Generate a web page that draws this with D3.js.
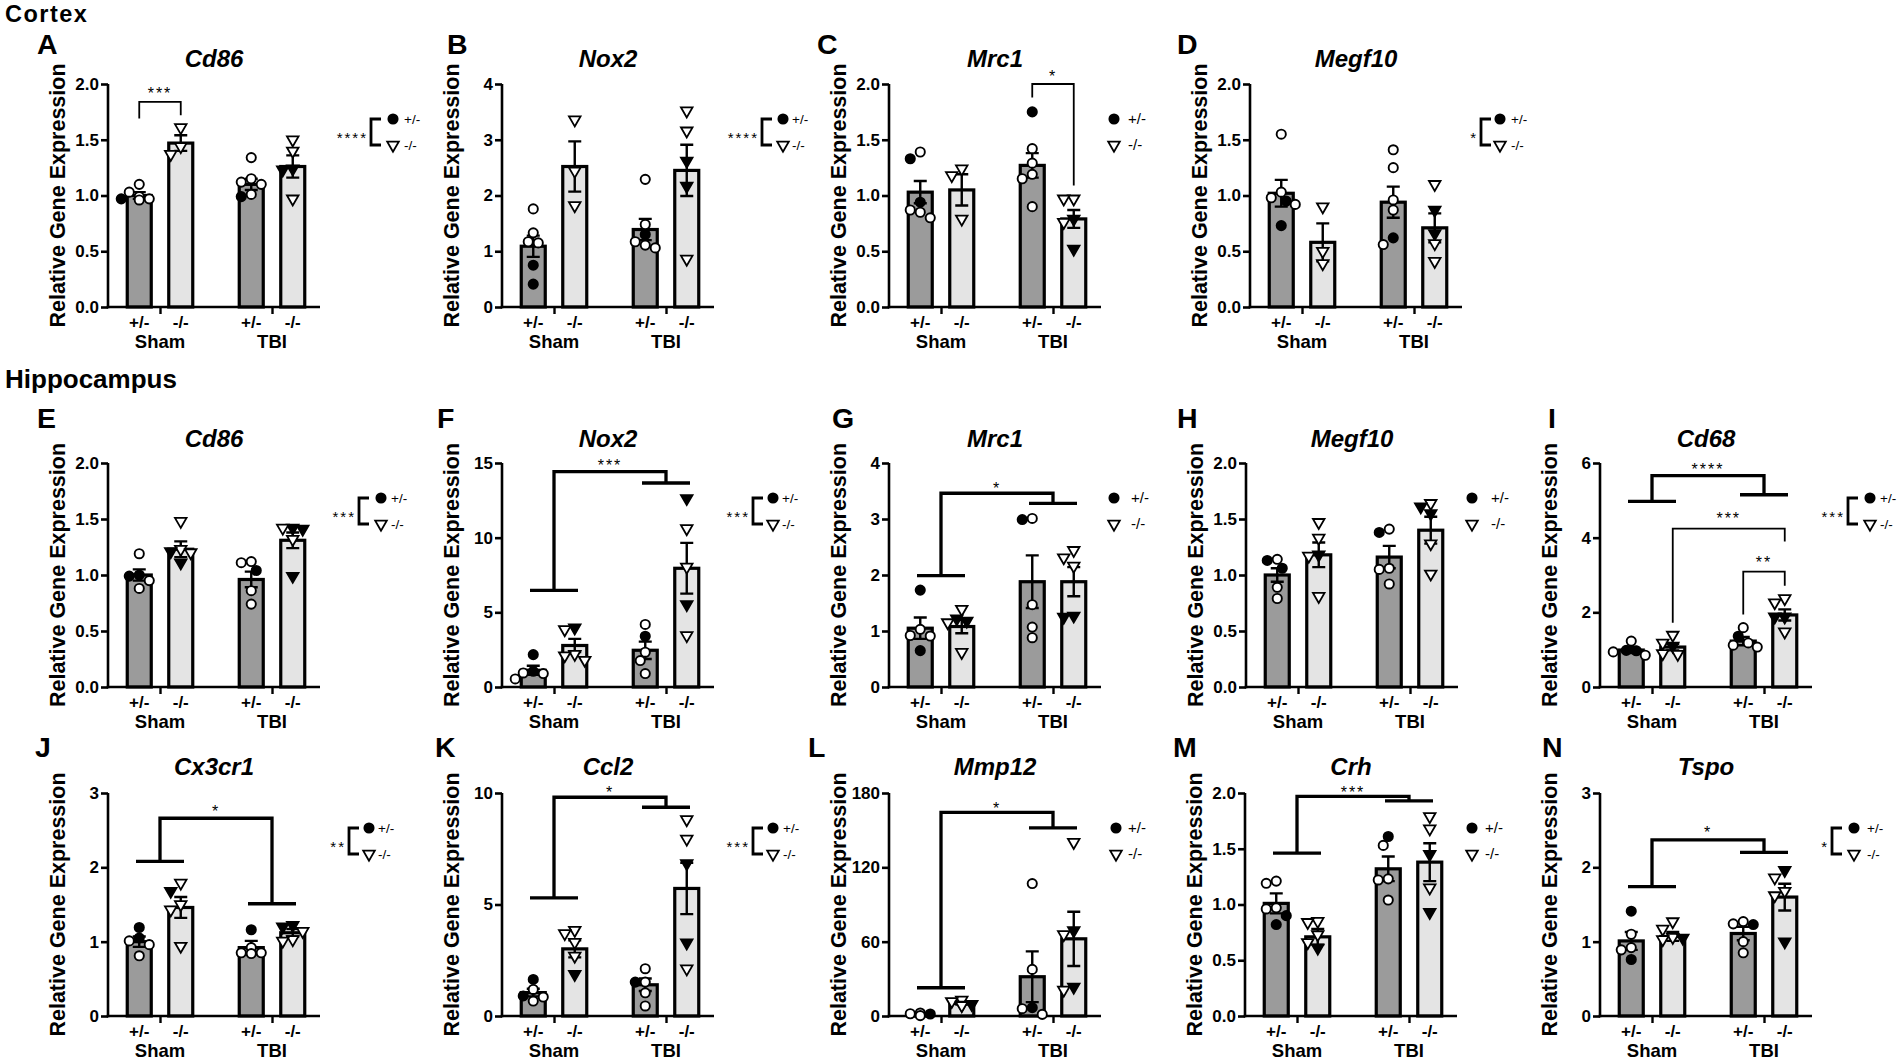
<!DOCTYPE html>
<html><head><meta charset="utf-8">
<script src="https://cdn.jsdelivr.net/npm/d3@7"></script>
<style>
html,body{margin:0;padding:0;background:#fff;}
svg{display:block;font-family:"Liberation Sans",Arial,Helvetica,sans-serif;}
</style></head><body>
<svg id="fig" width="1902" height="1063"></svg>
<script>
// ---------------- DATA ----------------
const groups = ["Sham", "TBI"];
const genotypes = ["+/-", "-/-"];
const yLabel = "Relative Gene Expression";
// bars order: Sham +/-, Sham -/-, TBI +/-, TBI -/- ; points: [value, filled(1)/open(0)]
const A_mean = [1.00, 1.47, 1.10, 1.26];
const A_sem  = [0.03, 0.07, 0.05, 0.10];
const A_pts  = [[[1.03,0],[1.10,0],[0.96,0],[0.97,0],[0.97,1],[0.99,0]],[[1.61,0],[1.44,0],[1.37,0]],[[1.34,0],[1.12,0],[1.15,0],[1.10,0],[1.01,0],[0.99,1]],[[1.50,0],[1.40,0],[1.24,1],[1.23,1],[0.97,0]]];
const A_ticks = [0, 0.5, 1.0, 1.5, 2.0];

const B_mean = [1.09, 2.52, 1.39, 2.45];
const B_sem  = [0.19, 0.45, 0.19, 0.46];
const B_pts  = [[[1.76,0],[1.33,0],[1.15,0],[1.17,0],[0.75,1],[0.41,1]],[[3.36,0],[2.44,0],[1.82,0]],[[2.29,0],[1.48,0],[1.30,1],[1.17,0],[1.06,0],[1.11,0]],[[3.52,0],[3.16,0],[2.62,1],[2.17,1],[0.86,0]]];
const B_ticks = [0, 1, 2, 3, 4];

const C_mean = [1.03, 1.05, 1.27, 0.79];
const C_sem  = [0.10, 0.14, 0.11, 0.08];
const C_pts  = [[[1.39,0],[1.33,1],[0.80,0],[0.87,0],[0.85,0],[0.94,1]],[[1.24,0],[1.18,0],[0.79,0]],[[1.75,1],[1.42,0],[1.29,0],[1.19,0],[1.15,0],[0.90,0]],[[0.97,0],[0.97,0],[0.79,1],[0.76,0],[0.52,1]]];
const C_ticks = [0, 0.5, 1.0, 1.5, 2.0];

const D_mean = [1.02, 0.58, 0.94, 0.71];
const D_sem  = [0.12, 0.17, 0.14, 0.13];
const D_pts  = [[[1.55,0],[0.98,0],[0.92,0],[1.03,0],[0.95,1],[0.73,1]],[[0.90,0],[0.50,0],[0.39,0]],[[1.41,0],[1.25,0],[0.96,0],[0.87,0],[0.56,0],[0.62,1]],[[1.10,0],[0.87,1],[0.66,1],[0.57,0],[0.41,0]]];
const D_ticks = [0, 0.5, 1.0, 1.5, 2.0];

const E_mean = [1.00, 1.23, 0.96, 1.31];
const E_sem  = [0.05, 0.07, 0.07, 0.07];
const E_pts  = [[[1.19,0],[0.99,1],[1.00,1],[0.88,0],[0.95,0]],[[1.48,0],[1.21,1],[1.11,1],[1.23,0],[1.20,0]],[[1.12,0],[1.11,0],[1.04,1],[0.86,0],[0.74,0]],[[1.42,1],[1.41,1],[1.42,0],[1.32,0],[0.99,1]]];
const E_ticks = [0, 0.5, 1.0, 1.5, 2.0];

const F_mean = [1.12, 2.78, 2.46, 7.95];
const F_sem  = [0.30, 0.44, 0.58, 1.70];
const F_pts  = [[[2.17,1],[1.05,1],[0.54,0],[0.94,0],[0.90,0]],[[3.96,1],[3.85,0],[2.2,0],[2.1,0],[1.8,0]],[[4.19,0],[3.40,1],[2.33,0],[1.77,0],[0.90,0]],[[12.63,1],[10.61,0],[8.04,0],[5.53,1],[3.45,0]]];
const F_ticks = [0, 5, 10, 15];

const G_mean = [1.05, 1.08, 1.88, 1.88];
const G_sem  = [0.19, 0.12, 0.47, 0.26];
const G_pts  = [[[1.73,1],[1.03,0],[0.91,0],[0.92,0],[0.65,1]],[[1.39,0],[1.22,1],[1.18,1],[1.15,0],[0.62,0]],[[3.01,0],[2.99,1],[1.47,0],[1.07,0],[0.88,0]],[[2.44,0],[2.31,0],[2.16,0],[1.25,1],[1.27,1]]];
const G_ticks = [0, 1, 2, 3, 4];

const H_mean = [1.00, 1.18, 1.16, 1.40];
const H_sem  = [0.06, 0.11, 0.10, 0.12];
const H_pts  = [[[1.14,0],[1.13,1],[1.06,1],[0.89,0],[0.79,0]],[[1.47,0],[1.33,0],[1.18,1],[1.17,0],[0.81,0]],[[1.41,0],[1.38,1],[1.06,0],[1.05,0],[0.92,0]],[[1.64,0],[1.61,1],[1.55,1],[1.28,0],[1.01,0]]];
const H_ticks = [0, 0.5, 1.0, 1.5, 2.0];

const I_mean = [0.99, 1.07, 1.23, 1.93];
const I_sem  = [0.08, 0.09, 0.11, 0.15];
const I_pts  = [[[1.23,0],[0.85,0],[0.97,1],[0.94,0],[0.98,1]],[[1.39,0],[1.18,0],[1.10,1],[0.90,0],[0.88,0]],[[1.59,0],[1.36,1],[1.07,0],[1.18,0],[1.12,0]],[[2.37,0],[2.26,0],[1.88,1],[1.88,1],[1.48,0]]];
const I_ticks = [0, 2, 4, 6];

const J_mean = [1.00, 1.46, 0.92, 1.12];
const J_sem  = [0.07, 0.14, 0.09, 0.05];
const J_pts  = [[[1.19,1],[1.05,1],[1.01,0],[0.96,0],[0.81,0]],[[1.79,0],[1.68,1],[1.50,0],[1.43,0],[0.94,0]],[[1.16,1],[0.85,0],[0.85,0],[0.92,0],[0.84,0]],[[1.22,1],[1.20,1],[1.14,0],[1.03,0],[1.01,0]]];
const J_ticks = [0, 1, 2, 3];

const K_mean = [1.05, 3.01, 1.40, 5.72];
const K_sem  = [0.17, 0.38, 0.28, 1.15];
const K_pts  = [[[1.64,1],[1.19,0],[0.90,1],[0.85,0],[0.67,0]],[[3.85,0],[3.70,0],[3.31,0],[2.69,0],[1.87,1]],[[2.12,0],[1.52,0],[1.52,1],[1.04,0],[0.45,0]],[[8.81,0],[7.94,0],[6.84,1],[3.28,1],[2.12,0]]];
const K_ticks = [0, 5, 10];

const L_mean = [1.3, 10.2, 31.7, 62.3];
const L_sem  = [0.5, 1.0, 20.5, 21.9];
const L_pts  = [[[0.3,0],[2.4,0],[1.8,0],[1.6,1]],[[12.9,0],[11.8,0],[9.4,1],[8.5,0],[8.9,1]],[[106.9,0],[37.6,0],[6.7,1],[1.3,0],[5.9,0]],[[140.2,0],[65.8,0],[69.0,1],[21.0,0],[23.4,1]]];
const L_ticks = [0, 60, 120, 180];

const M_mean = [1.01, 0.71, 1.32, 1.38];
const M_sem  = [0.09, 0.07, 0.11, 0.17];
const M_pts  = [[[1.19,0],[1.21,0],[0.96,0],[0.97,0],[0.82,1],[0.90,1]],[[0.85,0],[0.84,0],[0.73,0],[0.66,0],[0.61,1]],[[1.61,1],[1.53,0],[1.23,0],[1.22,0],[1.04,0]],[[1.79,0],[1.68,0],[1.45,1],[1.15,0],[0.93,1]]];
const M_ticks = [0, 0.5, 1.0, 1.5, 2.0];

const N_mean = [1.01, 1.07, 1.11, 1.60];
const N_sem  = [0.12, 0.06, 0.09, 0.18];
const N_pts  = [[[1.41,1],[1.10,0],[0.92,0],[0.89,0],[0.76,1]],[[1.27,0],[1.17,0],[1.06,0],[1.03,0],[1.05,1]],[[1.24,0],[1.27,0],[1.23,1],[1.00,0],[0.85,0]],[[1.96,1],[1.86,0],[1.68,0],[1.62,0],[1.00,1]]];
const N_ticks = [0, 1, 2, 3];

// significance annotations (values in data units)
const A_sig = [{type:"pair", i:0, j:1, left:1.69, top:1.84, right:1.72, label:"***", at:1.95}];
const C_sig = [{type:"pair", i:2, j:3, left:1.88, top:2.0, right:1.09, label:"*", at:2.1}];
const F_sig = [{type:"group", left:6.47, top:14.42, right:13.66, label:"***", at:15.04}];
const G_sig = [{type:"group", left:1.99, top:3.46, right:3.28, label:"*", at:3.6}];
const I_sig = [{type:"group", left:4.97, top:5.66, right:5.15, label:"****", at:5.91},
               {type:"pair", i:1, j:3, left:1.72, top:4.24, right:3.90, label:"***", at:4.6},
               {type:"pair", i:2, j:3, left:1.94, top:3.09, right:2.71, label:"**", at:3.43}];
const J_sig = [{type:"group", left:2.08, top:2.66, right:1.51, label:"*", at:2.8}];
const K_sig = [{type:"group", left:5.3, top:9.81, right:9.36, label:"*", at:10.2}];
const L_sig = [{type:"group", left:22.8, top:164.4, right:151.8, label:"*", at:170.6}];
const M_sig = [{type:"group", left:1.46, top:1.97, right:1.93, label:"***", at:2.04}];
const N_sig = [{type:"group", left:1.74, top:2.37, right:2.20, label:"*", at:2.52}];

// genotype main-effect stars in legends
const legendStars = {A:"****", B:"****", C:null, D:"*", E:"***", F:"***", G:null, H:null, I:"***", J:"**", K:"***", L:null, M:null, N:"*"};
const genes = {A:"Cd86", B:"Nox2", C:"Mrc1", D:"Megf10", E:"Cd86", F:"Nox2", G:"Mrc1", H:"Megf10", I:"Cd68", J:"Cx3cr1", K:"Ccl2", L:"Mmp12", M:"Crh", N:"Tspo"};

// ---------------- LAYOUT ----------------
const rowTop = [84, 463, 793], rowBot = [307, 687, 1016];
const letterBase = [54, 428, 757], titleBase = [67, 447, 775];
const layout = {
  A:{row:0, ax:108, lx:37,  fmt:".1f", lg:[263,285,296]},
  B:{row:0, ax:502, lx:447, fmt:"d",   lg:[260,281,290]},
  C:{row:0, ax:889, lx:817, fmt:".1f", lg:[null,225,239]},
  D:{row:0, ax:1250,lx:1177,fmt:".1f", lg:[231,250,261]},
  E:{row:1, ax:108, lx:37,  fmt:".1f", lg:[251,273,283]},
  F:{row:1, ax:502, lx:437, fmt:"d",   lg:[251,271,280]},
  G:{row:1, ax:889, lx:832, fmt:"d",   lg:[null,225,242]},
  H:{row:1, ax:1246,lx:1177,fmt:".1f", lg:[null,226,245]},
  I:{row:1, ax:1600,lx:1548,fmt:"d",   lg:[248,270,280]},
  J:{row:2, ax:108, lx:35,  fmt:"d",   lg:[241,261,270]},
  K:{row:2, ax:502, lx:435, fmt:"d",   lg:[251,271,281]},
  L:{row:2, ax:889, lx:808, fmt:"d",   lg:[null,227,239]},
  M:{row:2, ax:1245,lx:1173,fmt:".1f", lg:[null,227,240]},
  N:{row:2, ax:1600,lx:1542,fmt:"d",   lg:[232,254,267]}
};
const dataSets = {
  A:[A_mean,A_sem,A_pts,A_ticks,A_sig], B:[B_mean,B_sem,B_pts,B_ticks,[]], C:[C_mean,C_sem,C_pts,C_ticks,C_sig],
  D:[D_mean,D_sem,D_pts,D_ticks,[]], E:[E_mean,E_sem,E_pts,E_ticks,[]], F:[F_mean,F_sem,F_pts,F_ticks,F_sig],
  G:[G_mean,G_sem,G_pts,G_ticks,G_sig], H:[H_mean,H_sem,H_pts,H_ticks,[]], I:[I_mean,I_sem,I_pts,I_ticks,I_sig],
  J:[J_mean,J_sem,J_pts,J_ticks,J_sig], K:[K_mean,K_sem,K_pts,K_ticks,K_sig], L:[L_mean,L_sem,L_pts,L_ticks,L_sig],
  M:[M_mean,M_sem,M_pts,M_ticks,M_sig], N:[N_mean,N_sem,N_pts,N_ticks,N_sig]
};

const DARK = "#9b9b9b", LIGHT = "#e4e4e4";
const svg = d3.select("#fig");
const FONT = "Liberation Sans, Arial, sans-serif";

svg.append("text").attr("x", 5).attr("y", 22).attr("font-size", 23.5).attr("letter-spacing", 1.5)
  .attr("font-weight", "bold").text("Cortex");
svg.append("text").attr("x", 5).attr("y", 388).attr("font-size", 26).attr("font-weight", "bold").text("Hippocampus");

const triPath = d3.symbol(d3.symbolTriangle, 58)();

function marker(g, x, y, shape, filled) {
  if (shape === 0) {
    g.append("circle").attr("cx", x).attr("cy", y).attr("r", 4.6)
      .attr("fill", filled ? "#000" : "#fff").attr("stroke", "#000").attr("stroke-width", 1.9);
  } else {
    g.append("path").attr("d", triPath).attr("transform", `translate(${x},${y}) rotate(180)`)
      .attr("fill", filled ? "#000" : "#fff").attr("stroke", "#000").attr("stroke-width", 1.8).attr("stroke-linejoin", "miter");
  }
}

function swarm(values, cx, y) {
  const idx = values.map((_, i) => i).sort((a, b) => values[b][0] - values[a][0]);
  const placed = [], out = [];
  const offs = [0, -5, 5, -10, 10, -14, 14, -18, 18];
  idx.forEach(i => {
    const py = y(values[i][0]);
    let px = cx;
    for (const o of offs) {
      const c = cx + o;
      if (placed.every(q => Math.hypot(q[0] - c, q[1] - py) >= 9.6)) { px = c; break; }
    }
    placed.push([px, py]);
    out.push({v: values[i][0], f: values[i][1], x: px, y: py});
  });
  return out;
}

Object.keys(layout).forEach(id => {
  const L = layout[id];
  const [means, sems, pts, ticks, sigs] = dataSets[id];
  const top = rowTop[L.row], bot = rowBot[L.row];
  const ax = L.ax;
  const y = d3.scaleLinear().domain([0, d3.max(ticks)]).range([bot, top]);
  const xg = d3.scalePoint().domain(groups).range([ax + 52, ax + 164]);
  const xs = d3.scalePoint().domain(genotypes).range([-20.75, 20.75]);
  const bars = [];
  groups.forEach((gr, gi) => genotypes.forEach((ge, ki) => {
    const k = gi * 2 + ki;
    bars.push({gr, ge, k, cx: xg(gr) + xs(ge), mean: means[k], sem: sems[k], pts: pts[k]});
  }));
  const g = svg.append("g").attr("font-family", FONT);

  // letter & title
  g.append("text").attr("x", L.lx).attr("y", letterBase[L.row]).attr("font-size", 28.5).attr("font-weight", "bold").text(id);
  g.append("text").attr("x", ax + 106).attr("y", titleBase[L.row]).attr("text-anchor", "middle")
    .attr("font-size", 24).attr("font-weight", "bold").attr("font-style", "italic").text(genes[id]);
  // y label
  g.append("text").attr("transform", `translate(${ax - 43},${(top + bot) / 2}) rotate(-90)`)
    .attr("text-anchor", "middle").attr("font-size", 21.5).attr("font-weight", "bold").text(yLabel);

  // bars
  g.selectAll("rect.bar").data(bars).enter().append("rect")
    .attr("x", d => d.cx - 12).attr("width", 24)
    .attr("y", d => y(d.mean)).attr("height", d => bot - y(d.mean))
    .attr("fill", d => d.ge === "+/-" ? DARK : LIGHT).attr("stroke", "#000").attr("stroke-width", 3.2);

  // axes
  const yAxis = d3.axisLeft(y).tickValues(ticks).tickFormat(d3.format(L.fmt)).tickSize(7).tickSizeOuter(0).tickPadding(2);
  const ga = g.append("g").attr("transform", `translate(${ax},0)`).call(yAxis);
  ga.attr("font-family", FONT).attr("font-size", 17);
  ga.select(".domain").attr("stroke-width", 2.6).attr("d", `M0,${bot + 1.3}V${top}`);
  ga.selectAll(".tick line").attr("stroke-width", 2.6);
  ga.selectAll(".tick text").attr("font-weight", "bold").attr("fill", "#000");
  g.append("line").attr("x1", ax - 1.3).attr("x2", ax + 212).attr("y1", bot).attr("y2", bot)
    .attr("stroke", "#000").attr("stroke-width", 2.6);
  const xAxis = d3.axisBottom(xg).tickSize(7).tickSizeOuter(0).tickFormat("");
  const gx = g.append("g").attr("transform", `translate(0,${bot})`).call(xAxis);
  gx.select(".domain").remove();
  gx.selectAll(".tick line").attr("stroke-width", 2.4);

  // x labels
  g.selectAll("text.geno").data(bars).enter().append("text")
    .attr("x", d => d.cx).attr("y", bot + 21).attr("text-anchor", "middle")
    .attr("font-size", 17).attr("font-weight", "bold").text(d => d.ge);
  groups.forEach(gr => {
    g.append("text").attr("x", xg(gr)).attr("y", bot + 41).attr("text-anchor", "middle")
      .attr("font-size", 18.5).attr("font-weight", "bold").text(gr);
  });

  // error bars
  bars.forEach(d => {
    const y1 = y(d.mean + d.sem), y0 = y(Math.max(0, d.mean - d.sem));
    g.append("path").attr("d", `M${d.cx},${y0}V${y1}M${d.cx - 6.5},${y1}H${d.cx + 6.5}M${d.cx - 6.5},${y0}H${d.cx + 6.5}`)
      .attr("stroke", "#000").attr("stroke-width", 2.4).attr("fill", "none");
  });

  // points
  bars.forEach(d => {
    swarm(d.pts, d.cx, y).forEach(p => marker(g, p.x, p.y, d.ge === "+/-" ? 0 : 1, p.f === 1));
  });

  // significance
  sigs.forEach(s => {
    let x1, x2, w;
    if (s.type === "pair") {
      x1 = bars[s.i].cx; x2 = bars[s.j].cx; w = 1.8;
      g.append("path").attr("d", `M${x1},${y(s.left)}V${y(s.top)}H${x2}V${y(s.right)}`)
        .attr("fill", "none").attr("stroke", "#000").attr("stroke-width", w);
    } else {
      x1 = xg("Sham"); x2 = xg("TBI"); w = 3.3;
      g.append("path").attr("d",
        `M${x1 - 24},${y(s.left)}H${x1 + 24}M${x1},${y(s.left)}V${y(s.top)}H${x2}V${y(s.right)}M${x2 - 24},${y(s.right)}H${x2 + 24}`)
        .attr("fill", "none").attr("stroke", "#000").attr("stroke-width", w);
    }
    g.append("text").attr("x", (x1 + x2) / 2).attr("y", y(s.at) + 9).attr("text-anchor", "middle")
      .attr("font-size", 16).attr("letter-spacing", 2).text(s.label);
  });

  // legend
  const [bx, mx, tx] = L.lg;
  const ly1 = top + 35, ly2 = top + 61;
  const stars = legendStars[id];
  const lfs = stars ? 13.5 : 15;
  if (stars) {
    g.append("path").attr("d", `M${ax + bx + 10},${ly1}H${ax + bx}V${ly2}H${ax + bx + 10}`)
      .attr("fill", "none").attr("stroke", "#000").attr("stroke-width", 2.8);
    g.append("text").attr("x", ax + bx - 3).attr("y", (ly1 + ly2) / 2 + 11).attr("text-anchor", "end")
      .attr("font-size", 15).attr("letter-spacing", 2).text(stars);
  }
  marker(g, ax + mx, ly1, 0, true);
  marker(g, ax + mx, ly2, 1, false);
  g.append("text").attr("x", ax + tx).attr("y", ly1 + 5).attr("font-size", lfs).text("+/-");
  g.append("text").attr("x", ax + tx).attr("y", ly2 + 5).attr("font-size", lfs).text("-/-");
});
</script>
</body></html>
